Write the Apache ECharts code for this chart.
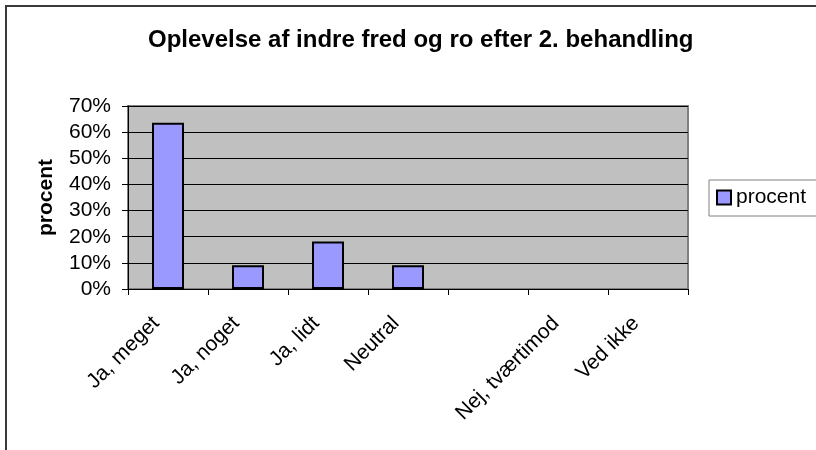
<!DOCTYPE html>
<html>
<head>
<meta charset="utf-8">
<script src="https://cdn.jsdelivr.net/npm/echarts@6/dist/echarts.min.js"></script>
<style>
  html, body { margin: 0; padding: 0; background: #fff; }
  #chart { width: 816px; height: 450px; }
</style>
</head>
<body>
<div id="chart"></div>
<script>
// answers (the 5th category has no label in the original)
const categories = ['Ja, meget', 'Ja, noget', 'Ja, lidt', 'Neutral', '', 'Nej, tværtimod', 'Ved ikke'];
// percent of respondents
const procent = [63.6, 9.1, 18.2, 9.1, 0, 0, 0];
const yTicks = { min: 0, max: 70, interval: 10 };

const FONT = '"Liberation Sans", Arial, sans-serif';

const chart = echarts.init(document.getElementById('chart'));

chart.setOption({
  animation: false,
  textStyle: { fontFamily: FONT, color: '#000' },
  graphic: [
    {
      type: 'rect',
      shape: { x: 6, y: 6, width: 900, height: 500 },
      style: { fill: 'none', stroke: '#3a3a3a', lineWidth: 2 },
      silent: true
    }
  ],
  title: {
    text: 'Oplevelse af indre fred og ro efter 2. behandling',
    left: 148,
    top: 28,
    padding: 0,
    textStyle: { fontFamily: FONT, fontSize: 24, fontWeight: 'bold', color: '#000' }
  },
  legend: {
    data: ['procent'],
    left: 709,
    top: 180,
    padding: [7, 30, 8, 7],
    itemGap: 0,
    itemWidth: 14,
    itemHeight: 14,
    icon: 'rect',
    borderColor: '#808080',
    borderWidth: 1,
    backgroundColor: '#fff',
    textStyle: { fontFamily: FONT, fontSize: 21, color: '#000', padding: [0, 0, 0, 0] }
  },
  grid: {
    left: 128,
    right: 128,
    top: 106,
    bottom: 161,
    show: true,
    backgroundColor: '#C0C0C0',
    borderColor: '#808080',
    borderWidth: 2
  },
  xAxis: {
    type: 'category',
    data: categories,
    axisLine: { lineStyle: { color: '#000', width: 1 } },
    axisTick: { show: true, length: 6, lineStyle: { color: '#000' } },
    axisLabel: {
      interval: 0,
      rotate: 45,
      margin: 19,
      padding: [0, 17, 0, 0],
      fontFamily: FONT,
      fontSize: 21,
      color: '#000'
    },
    splitLine: { show: false }
  },
  yAxis: {
    type: 'value',
    min: yTicks.min,
    max: yTicks.max,
    interval: yTicks.interval,
    name: 'procent',
    nameLocation: 'middle',
    nameGap: 71,
    nameTextStyle: { fontFamily: FONT, fontSize: 21, fontWeight: 'bold', color: '#000' },
    axisLine: { show: true, lineStyle: { color: '#000', width: 1 } },
    axisTick: { show: true, length: 6, lineStyle: { color: '#000' } },
    axisLabel: {
      formatter: '{value}%',
      margin: 17,
      fontFamily: FONT,
      fontSize: 21,
      color: '#000'
    },
    splitLine: { show: true, lineStyle: { color: '#000', width: 1 } }
  },
  series: [
    {
      name: 'procent',
      type: 'bar',
      // empty answers get no bar outline on the axis
      data: procent.map(v => (v === 0 ? '-' : v)),
      barWidth: 32,
      itemStyle: {
        color: '#9999FF',
        borderColor: '#000',
        borderWidth: 2
      }
    }
  ]
});
</script>
</body>
</html>
